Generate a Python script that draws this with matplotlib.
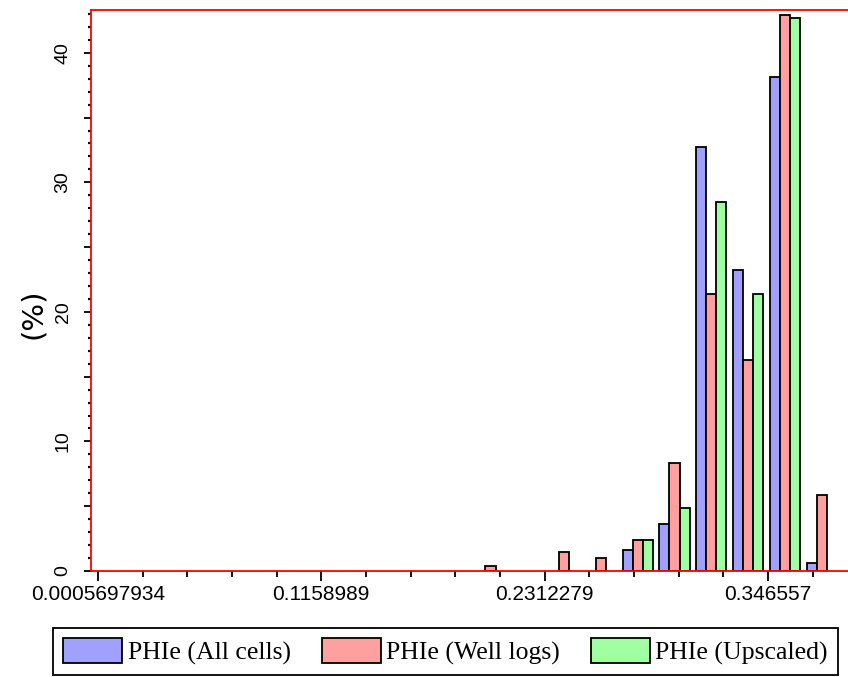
import matplotlib
matplotlib.use("Agg")
import matplotlib.pyplot as plt
import numpy as np
from matplotlib.ticker import FixedLocator, AutoMinorLocator, MultipleLocator, FuncFormatter
from matplotlib.patches import Patch

#%% data (histogram of PHIe, % per bin)
bin_centers = [0.2033, 0.2413, 0.2603, 0.2793, 0.2983, 0.3173, 0.3363, 0.3553, 0.3743]
all_cells   = [0.0, 0.0, 0.0, 1.6, 3.6, 32.7, 23.2, 38.1, 0.6]
well_logs   = [0.35, 1.45, 1.0, 2.4, 8.3, 21.4, 16.3, 42.9, 5.9]
upscaled    = [0.0, 0.0, 0.0, 2.4, 4.9, 28.5, 21.4, 42.7, 0.0]
series_names = ["PHIe (All cells)", "PHIe (Well logs)", "PHIe (Upscaled)"]
colors = ["#a0a0ff", "#ffa0a0", "#a0ffa0"]
x_ticks = [0.0005697934, 0.1158989, 0.2312279, 0.346557]
x_ticklabels = ["0.0005697934", "0.1158989", "0.2312279", "0.346557"]

#%% figure
fig = plt.figure(figsize=(8.48, 6.77), dpi=100)
ax = fig.add_axes([0.1073, 0.1566, 0.8927, 0.8286])

bw = 0.0052
for k, vals in enumerate([all_cells, well_logs, upscaled]):
    xs = np.array(bin_centers) + (k - 1) * bw
    v = np.array(vals)
    keep = v > 0
    ax.bar(xs[keep], v[keep], width=bw, color=colors[k],
           edgecolor="black", linewidth=1.3, zorder=2)

ax.set_xlim(-0.0030, 0.3879)
ax.set_ylim(0, 43.3)

for s in ["left", "bottom", "top"]:
    ax.spines[s].set_color("red")
    ax.spines[s].set_linewidth(1.3)
ax.spines["right"].set_visible(False)
ax.spines["bottom"].set_zorder(3)

ax.xaxis.set_major_locator(FixedLocator(x_ticks))
ax.set_xticklabels(x_ticklabels, family="Liberation Sans")
ax.xaxis.set_minor_locator(AutoMinorLocator(5))
ax.yaxis.set_major_locator(MultipleLocator(5))
ax.yaxis.set_minor_locator(MultipleLocator(1))
ax.yaxis.set_major_formatter(FuncFormatter(lambda v, p: "%d" % v if v % 10 == 0 else ""))

ax.tick_params(axis="x", which="major", length=7, width=1.3, direction="out",
               labelsize=15, pad=3)
ax.tick_params(axis="x", which="minor", length=4, width=1.3, direction="out")
ax.tick_params(axis="y", which="major", length=5, width=1.3, direction="out",
               labelsize=14, labelrotation=90, pad=9)
ax.tick_params(axis="y", which="minor", length=2, width=1.6, direction="out")
for lab in ax.get_yticklabels():
    lab.set_va("center")
    lab.set_family("Liberation Sans")

ax.set_ylabel("(%)", fontsize=21)
ax.yaxis.set_label_coords(-0.058, 0.458)

handles = [Patch(facecolor=c, edgecolor="black", linewidth=1.3) for c in colors]
leg = fig.legend(handles, series_names, loc="lower left",
                 bbox_to_anchor=(0.0625, 0.003, 0.926, 0.074), mode="expand",
                 ncol=3, fancybox=False, edgecolor="black", framealpha=1,
                 handlelength=2.3, handleheight=1.15, handletextpad=0.2,
                 borderaxespad=0, borderpad=0.4,
                 prop={"family": "Liberation Serif", "size": 18.5})
leg.get_frame().set_linewidth(1.3)

fig.savefig("out.png", dpi=100)
